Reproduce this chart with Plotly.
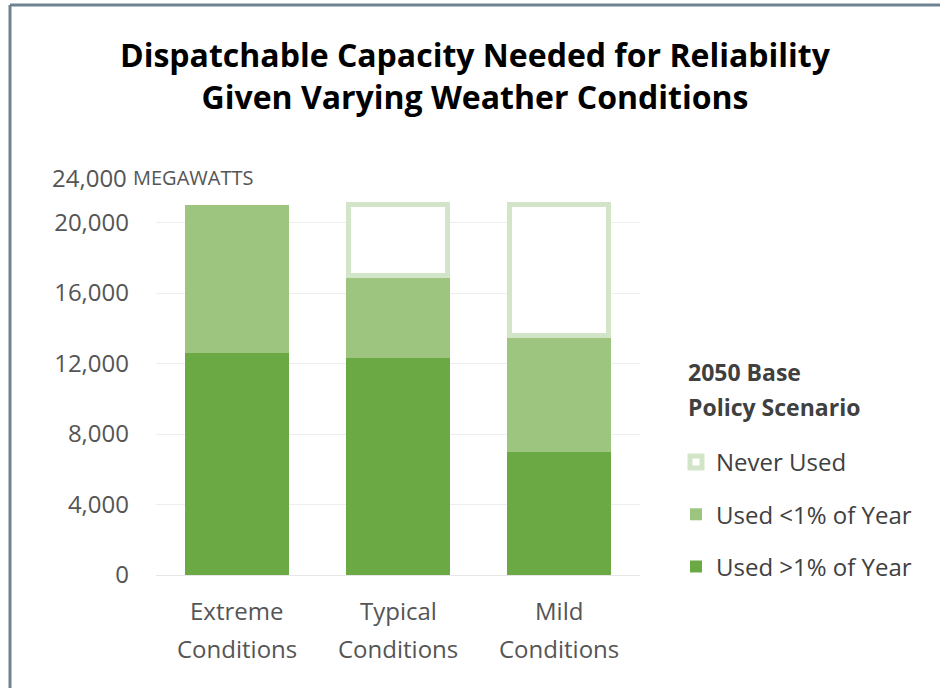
import plotly.graph_objects as go

# Scenario categories and stacked capacity (megawatts)
categories = ["Extreme Conditions", "Typical Conditions", "Mild Conditions"]
used_over_1pct = [12600, 12300, 7000]
used_under_1pct = [8400, 4700, 6600]
never_used = [0, 4000, 7400]

y_tickvals = [0, 4000, 8000, 12000, 16000, 20000]
y_ticktext = ["0", "4,000", "8,000", "12,000", "16,000", "20,000"]

DARK = "#6aa943"
LIGHT = "#9dc57f"
PALE = "#d3e5c8"
TEXT = "#555555"
LEGEND_TEXT = "#404040"
FONT = "Open Sans"

# plot-area geometry in pixels, used to place paper-referenced decorations
L, R, T, B, W, H = 156, 300, 152, 113, 940, 688
PW, PH = W - L - R, H - T - B


def px_x(px):
    return (px - L) / PW


def px_y(py):
    return (H - B - py) / PH


fig = go.Figure()

fig.add_trace(go.Bar(
    x=categories, y=used_over_1pct, name="Used >1% of Year",
    marker=dict(color=DARK, line=dict(width=0)), width=0.644,
    legendgroup="a", legendrank=3,
))
fig.add_trace(go.Bar(
    x=categories, y=used_under_1pct, name="Used <1% of Year",
    marker=dict(color=LIGHT, line=dict(width=0)), width=0.644,
    legendgroup="b", legendrank=2,
))
# empty segments are skipped so no outline is drawn where nothing is unused
fig.add_trace(go.Bar(
    x=categories, y=[v if v > 0 else None for v in never_used], name="Never Used",
    marker=dict(color="white", line=dict(color=PALE, width=5)),
    width=0.613,
    legendgroup="c", legendrank=1,
))

fig.update_layout(
    width=W, height=H,
    barmode="stack",
    paper_bgcolor="white", plot_bgcolor="white",
    margin=dict(l=L, r=R, t=T, b=B),
    font=dict(family=FONT, color=TEXT, size=20),
    xaxis=dict(showgrid=False, showline=False, ticks="", showticklabels=False),
    yaxis=dict(
        range=[0, 24000], tickvals=y_tickvals, ticktext=y_ticktext,
        showgrid=True, gridcolor="#eeeeee", gridwidth=1,
        zeroline=True, zerolinecolor="#e6e6e6", zerolinewidth=1,
        showline=False, ticks="", ticklabelstandoff=26,
        tickfont=dict(size=24, color=TEXT),
    ),
    legend=dict(
        x=px_x(676), y=px_y(440), xanchor="left", yanchor="top",
        traceorder="grouped", tracegroupgap=18,
        font=dict(size=24, color=LEGEND_TEXT),
        itemwidth=30, bgcolor="rgba(0,0,0,0)",
    ),
)

# chart title
fig.add_annotation(
    text="<b>Dispatchable Capacity Needed for Reliability<br>Given Varying Weather Conditions</b>",
    xref="paper", yref="paper", x=px_x(475), y=px_y(76),
    xanchor="center", yanchor="middle", showarrow=False,
    font=dict(family=FONT, size=32, color="#000000"),
)

# legend heading
for line, ypx in zip(["2050 Base", "Policy Scenario"], [372, 407]):
    fig.add_annotation(
        text=f"<b>{line}</b>", xref="paper", yref="paper",
        x=px_x(686), y=px_y(ypx), xanchor="left", yanchor="middle",
        showarrow=False, font=dict(size=23, color=LEGEND_TEXT),
    )

# two-line category labels under each bar
for cat in categories:
    first, second = cat.split(" ")
    for line, ypx in zip([first, second], [610, 648]):
        fig.add_annotation(
            text=line, xref="x", yref="paper", x=cat, y=px_y(ypx),
            xanchor="center", yanchor="middle", showarrow=False,
            font=dict(size=24, color=TEXT),
        )

# top axis caption
fig.add_annotation(
    text="24,000", xref="paper", yref="y", x=px_x(129), y=22560,
    xanchor="right", yanchor="middle", showarrow=False,
    font=dict(size=24, color=TEXT),
)
fig.add_annotation(
    text="MEGAWATTS", xref="paper", yref="y", x=px_x(131), y=22560,
    xanchor="left", yanchor="middle", showarrow=False,
    font=dict(size=20, color=TEXT),
)

# frame lines along the top and left edges
fig.add_shape(type="line", xref="paper", yref="paper",
              x0=px_x(10), x1=px_x(945), y0=px_y(5), y1=px_y(5),
              line=dict(color="#6e8391", width=3))
fig.add_shape(type="line", xref="paper", yref="paper",
              x0=px_x(10), x1=px_x(10), y0=px_y(5), y1=px_y(700),
              line=dict(color="#6e8391", width=3))

fig.write_html("out.html")
